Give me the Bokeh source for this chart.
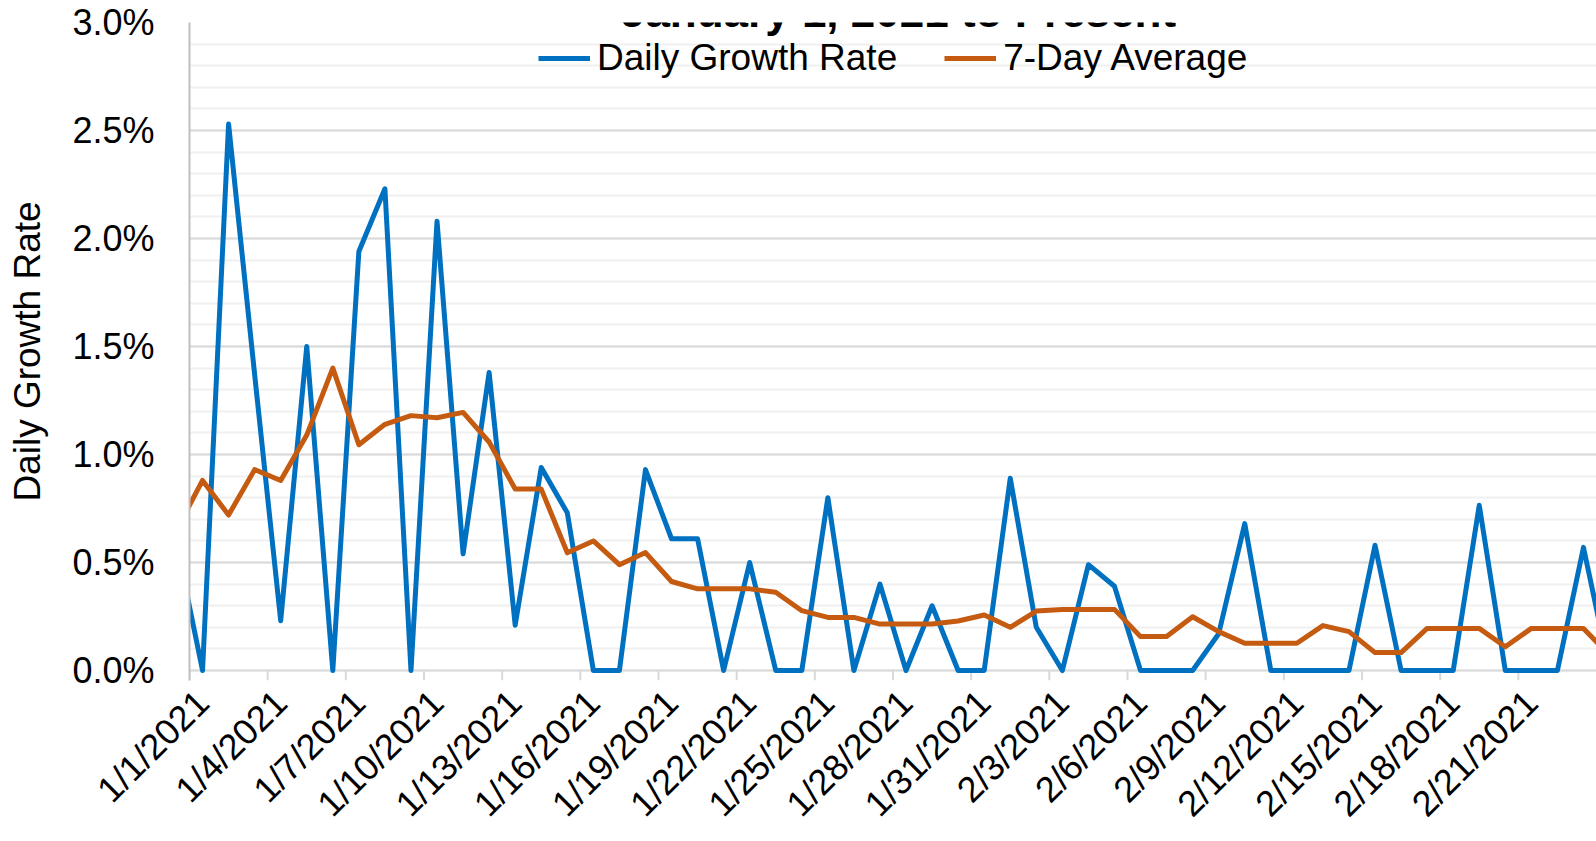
import pandas as pd
from bokeh.plotting import figure
from bokeh.models import (FixedTicker, PrintfTickFormatter, Legend, LegendItem,
                          Label, Range1d, ColumnDataSource)
from bokeh.embed import file_html
from bokeh.resources import INLINE

# ---- data (daily points, 12/31/2020 .. 2/24/2021; first/last only partly visible) ----
point_dates = pd.date_range("2020-12-31", "2021-02-24", freq="D")
daily_growth = [0.59, 0.00, 2.53, 1.37, 0.23, 1.50, 0.00, 1.94, 2.23, 0.00,
                2.08, 0.54, 1.38, 0.21, 0.94, 0.73, 0.00, 0.00, 0.93, 0.61,
                0.61, 0.00, 0.50, 0.00, 0.00, 0.80, 0.00, 0.40, 0.00, 0.30,
                0.00, 0.00, 0.89, 0.20, 0.00, 0.49, 0.39, 0.00, 0.00, 0.00,
                0.17, 0.68, 0.00, 0.00, 0.00, 0.00, 0.58, 0.00, 0.00, 0.00,
                0.765, 0.00, 0.00, 0.00, 0.57, 0.00]
seven_day_avg = [0.65, 0.88, 0.72, 0.93, 0.88, 1.09, 1.40, 1.045, 1.14, 1.18,
                 1.17, 1.195, 1.058, 0.84, 0.84, 0.545, 0.60, 0.49, 0.546, 0.412,
                 0.378, 0.378, 0.378, 0.362, 0.277, 0.246, 0.246, 0.215, 0.215, 0.215,
                 0.229, 0.257, 0.20, 0.275, 0.283, 0.283, 0.283, 0.157, 0.157, 0.249,
                 0.18, 0.126, 0.126, 0.126, 0.208, 0.18, 0.083, 0.083, 0.195, 0.195,
                 0.195, 0.11, 0.195, 0.195, 0.195, 0.07]
tick_labels = ["1/1/2021", "1/4/2021", "1/7/2021", "1/10/2021", "1/13/2021",
               "1/16/2021", "1/19/2021", "1/22/2021", "1/25/2021", "1/28/2021",
               "1/31/2021", "2/3/2021", "2/6/2021", "2/9/2021", "2/12/2021",
               "2/15/2021", "2/18/2021", "2/21/2021"]
y_ticks = [0.0, 0.5, 1.0, 1.5, 2.0, 2.5, 3.0]
title_text = "January 1, 2021 to Present"

start = pd.Timestamp("2021-01-01")
xs = [(d - start).days + 0.5 for d in point_dates]
tick_pos = [(pd.Timestamp(t) - start).days for t in tick_labels]

src = ColumnDataSource(dict(x=xs, daily=daily_growth, avg=seven_day_avg))

W, H = 1596, 841
X_END = 54.0
Y_MIN = -0.0462          # frame reaches 10px below 0% so tick marks fit inside
FONT = "Liberation Sans"
BLUE = "#0070C0"
ORANGE = "#C55A11"
GRID = "#d9d9d9"

p = figure(width=W, height=H, output_backend="svg", toolbar_location=None,
           x_range=Range1d(0, X_END), y_range=Range1d(Y_MIN, 3.0),
           min_border_left=189, min_border_right=0, min_border_top=22,
           min_border_bottom=160)
p.outline_line_color = None
p.background_fill_color = "white"

# x-axis tick marks (below the 0% line)
p.segment(x0=tick_pos, x1=tick_pos, y0=[0] * len(tick_pos),
          y1=[Y_MIN] * len(tick_pos), line_color=GRID, line_width=2)

r1 = p.line("x", "daily", source=src, line_color=BLUE, line_width=5,
            line_join="round")
r2 = p.line("x", "avg", source=src, line_color=ORANGE, line_width=5,
            line_join="round")

# y axis
yax = p.yaxis[0]
yax.ticker = FixedTicker(ticks=y_ticks, minor_ticks=[i / 10 for i in range(31)])
yax.formatter = PrintfTickFormatter(format="%.1f%%")
yax.major_label_text_font = FONT
yax.major_label_text_font_size = "36px"
yax.major_label_text_color = "black"
yax.major_tick_out = 0
yax.major_tick_in = 0
yax.minor_tick_out = 0
yax.minor_tick_in = 0
yax.major_label_standoff = 35
yax.axis_line_color = "#c0c0c0"
yax.axis_line_width = 2
yax.axis_label = "Daily Growth Rate"
yax.axis_label_text_font = FONT
yax.axis_label_text_font_size = "37px"
yax.axis_label_text_font_style = "normal"
yax.axis_label_text_color = "black"
yax.axis_label_standoff = 21

p.ygrid.grid_line_color = GRID
p.ygrid.grid_line_width = 2
p.ygrid.minor_grid_line_color = "#f0f0f0"
p.ygrid.minor_grid_line_width = 2
p.xgrid.grid_line_color = None

# x labels: same scale, shifted half a day right of the tick marks (as in the original)
p.extra_x_ranges = {"labels": Range1d(-0.5, X_END - 0.5)}
xax = p.xaxis[0]
xax.x_range_name = "labels"
xax.ticker = FixedTicker(ticks=tick_pos, minor_ticks=[])
xax.major_label_overrides = {t: l for t, l in zip(tick_pos, tick_labels)}
xax.major_label_orientation = 0.785398
xax.major_label_text_font = FONT
xax.major_label_text_font_size = "36px"
xax.major_label_text_color = "black"
xax.axis_line_color = None
xax.major_tick_line_color = None
xax.minor_tick_line_color = None
xax.major_tick_out = 0
xax.major_tick_in = 0
xax.minor_tick_out = 0
xax.minor_tick_in = 0
xax.major_label_standoff = 16

legend = Legend(items=[LegendItem(label="Daily Growth Rate", renderers=[r1]),
                       LegendItem(label="7-Day Average", renderers=[r2])],
                orientation="horizontal", location=(349, 601),
                glyph_width=52, glyph_height=20, label_standoff=7, spacing=47,
                padding=0, margin=0, background_fill_alpha=0,
                border_line_alpha=0, label_text_font=FONT,
                label_text_font_size="37px", label_text_color="black")
p.add_layout(legend)

# the original image is cropped so that only the lower part of the title shows
title = Label(x=709, y=669, x_units="screen", y_units="screen", text=title_text,
              text_font=FONT, text_font_size="44px", text_font_style="bold",
              text_align="center", text_baseline="alphabetic",
              text_color="black")
p.add_layout(title)

open("out.html", "w").write(file_html(p, INLINE))
